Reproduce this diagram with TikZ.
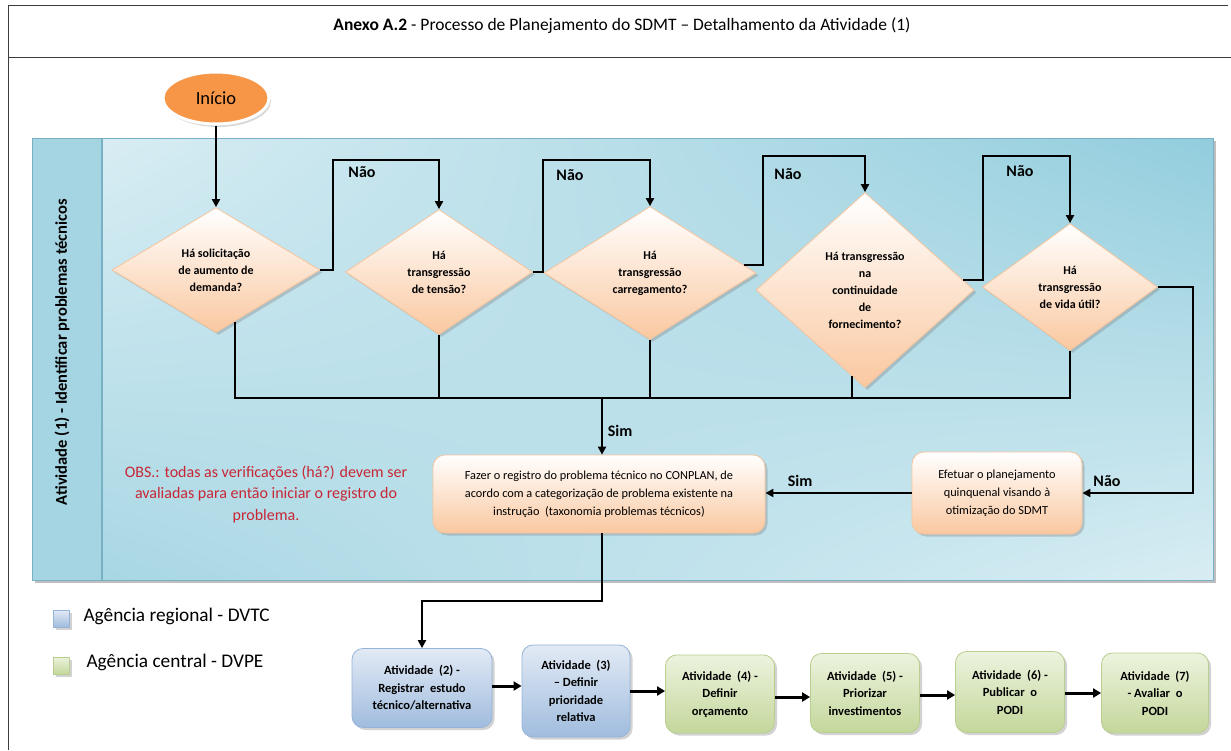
\documentclass[tikz,border=0pt]{standalone}
\usepackage{fontspec}
\setmainfont{Carlito}
\usetikzlibrary{shapes.geometric,arrows.meta,shadows,shadings,calc}

\definecolor{panelUL}{RGB}{216,237,243}
\definecolor{panelUR}{RGB}{146,205,221}
\definecolor{panelLL}{RGB}{168,215,228}
\definecolor{panelLR}{RGB}{216,237,243}
\definecolor{stripEdge}{RGB}{165,212,226}
\definecolor{stripMid}{RGB}{230,244,248}
\definecolor{panelLine}{RGB}{120,176,196}
\definecolor{peach}{RGB}{250,200,160}
\definecolor{peachLine}{RGB}{246,196,156}
\definecolor{startOrange}{RGB}{247,150,70}
\definecolor{blueTop}{RGB}{226,234,245}
\definecolor{blueBot}{RGB}{160,188,222}
\definecolor{blueLine}{RGB}{150,180,215}
\definecolor{greenTop}{RGB}{236,243,222}
\definecolor{greenBot}{RGB}{196,215,155}
\definecolor{greenLine}{RGB}{185,205,145}
\definecolor{noteRed}{RGB}{200,38,52}
\definecolor{frameGray}{RGB}{60,60,60}

\newcommand\setfs[2]{\fontsize{#1}{#2}\selectfont}

\begin{document}
\begin{tikzpicture}[x=1pt,y=-1pt,
  softshadow/.style={drop shadow={opacity=0.35,shadow xshift=2.5pt,shadow yshift=-2.5pt}},
  decision/.style={diamond,draw=peachLine,line width=0.8pt,top color=white,bottom color=peach,
    inner sep=0pt,softshadow},
  dtext/.style={align=center,font=\setfs{12}{17}\bfseries},
  taskbox/.style={rectangle,rounded corners=12pt,draw=peachLine,line width=0.8pt,
    top color=white,bottom color=peach,align=center,softshadow,inner sep=2pt},
  bluebox/.style={rectangle,rounded corners=11pt,draw=blueLine,line width=0.8pt,
    top color=blueTop,bottom color=blueBot,align=center,softshadow,inner sep=2pt,
    font=\setfs{12.5}{17.5}\bfseries},
  greenbox/.style={rectangle,rounded corners=11pt,draw=greenLine,line width=0.8pt,
    top color=greenTop,bottom color=greenBot,align=center,softshadow,inner sep=2pt,
    font=\setfs{12.5}{17.5}\bfseries},
  flow/.style={draw=black,line width=2pt,line join=miter},
  arrow/.style={flow,-{Triangle[length=8pt,width=8pt]}},
  bigarrow/.style={draw=black,line width=3pt,-{Triangle[length=8pt,width=9pt]}},
  branch/.style={font=\setfs{16}{18}\bfseries},
]
\useasboundingbox (0,0) rectangle (1231,750);
\fill[white] (0,0) rectangle (1231,750);

% page frame and title
\draw[frameGray,line width=0.9pt] (8,750) -- (8,5) -- (1228,5);
\draw[frameGray,line width=0.9pt] (8,57) -- (1231,57);
\node (title) at (622,26) {\setfs{17.5}{19}\textbf{Anexo A.2} - Processo de Planejamento do SDMT -- Detalhamento da Atividade (1)};

% swimlane panel
\fill[black,opacity=0.25] (35,141) rectangle (1216,583);
\shade[upper left=panelUL,upper right=panelUR,lower left=panelLL,lower right=panelLR]
  (102,138) rectangle (1213,580);
\shade[left color=stripEdge,middle color=stripMid,right color=stripEdge]
  (32,138) rectangle (102,580);
\draw[panelLine,line width=0.8pt] (32,138) rectangle (1213,580);
\draw[panelLine,line width=1.2pt] (102,138) -- (102,580);
\node[rotate=90,font=\setfs{16.5}{18}\bfseries] (lane) at (62,352)
  {Atividade (1) - Identificar problemas técnicos};

% start
\node[ellipse,fill=startOrange,draw=white,line width=3pt,minimum width=106pt,minimum height=52pt,
  drop shadow={opacity=0.3,shadow xshift=2pt,shadow yshift=-3pt},font=\setfs{18.5}{20}] (start) at (216,98) {Início};

% decisions
\node[decision,minimum width=208pt,minimum height=125pt] (d1) at (216,270) {};
\node[dtext] (t1) at (d1) {Há solicitação\\de aumento de\\demanda?};
\node[decision,minimum width=187pt,minimum height=125pt] (d2) at (439,272) {};
\node[dtext] (t2) at (d2) {Há\\transgressão\\de tensão?};
\node[decision,minimum width=212pt,minimum height=133pt] (d3) at (650,273) {};
\node[dtext] (t3) at (d3) {Há\\transgressão\\carregamento?};
\node[decision,minimum width=218pt,minimum height=195pt] (d4) at (865,290) {};
\node[dtext] (t4) at (d4) {Há transgressão\\na\\continuidade\\de\\fornecimento?};
\node[decision,minimum width=175pt,minimum height=127pt] (d5) at (1070,287) {};
\node[dtext] (t5) at (d5) {Há\\transgressão\\de vida útil?};

% tasks inside the lane
\node[taskbox,minimum width=332pt,minimum height=78pt,font=\setfs{12.3}{18}] (fz) at (599,494)
  {Fazer o registro do problema técnico no CONPLAN, de\\acordo com a categorização de problema existente na\\instrução\ \ (taxonomia problemas técnicos)};
\node[taskbox,minimum width=170pt,minimum height=82pt,font=\setfs{12.3}{18}] (ef) at (997,493)
  {Efetuar o planejamento\\quinquenal visando à\\otimização do SDMT};

% note
\node[align=center,text=noteRed,font=\setfs{16}{21.5}] (obs) at (266,494)
  {OBS.: todas as verificações (há?) devem ser\\avaliadas para então iniciar o registro do\\problema.};

% entry into the first check
\draw[arrow] (start.south) -- (d1.north);

% "Não" loops between decisions
\coordinate (u1) at (333,160);
\coordinate (u2) at (543,160);
\coordinate (u3) at (763,156);
\coordinate (u4) at (983,156);
\coordinate (u5) at (1193,400);
\draw[arrow] (d1.east) -| (u1) -| (d2.north);
\draw[arrow] (d2.east) -| (u2) -| (d3.north);
\draw[arrow] ($(d3.east)!0.12!(d3.north)$) -| (u3) -| (d4.north);
\draw[arrow] ($(d4.east)!0.1!(d4.north)$) -| (u4) -| (d5.north);
\draw[arrow] (d5.east) -| (u5) |- (ef.east);
\node[branch] (n1) at (362,172) {Não};
\node[branch] (n2) at (570,175) {Não};
\node[branch] (n3) at (788,174) {Não};
\node[branch] (n4) at (1020,171) {Não};
\node[branch] (n5) at (1107,481) {Não};

% "Sim" collector line
\coordinate (bus) at (0,398);
\coordinate (b1) at ($(d1.south)!0.18!(d1.east)$);
\coordinate (b4) at ($(d4.south)!0.12!(d4.west)$);
\draw[flow] (b1) -- (b1 |- bus) -- (d5.south |- bus) -- (d5.south);
\draw[flow] (d2.south) -- (d2.south |- bus);
\draw[flow] (d3.south) -- (d3.south |- bus);
\draw[flow] (b4) -- (b4 |- bus);
\draw[arrow] ([xshift=3pt]fz.north |- bus) -- ([xshift=3pt]fz.north);
\node[branch] (s1) at (620,431) {Sim};
\draw[arrow] (ef.west) -- (ef.west -| fz.east);
\node[branch] (s2) at (800,481) {Sim};

% legend
\shade[top color=blueTop,bottom color=blueBot,draw=blueLine,softshadow] (53,610) rectangle (69,627);
\node[anchor=west,font=\setfs{19.3}{21}] (lg1) at (80,616) {Agência regional - DVTC};
\shade[top color=greenTop,bottom color=greenBot,draw=greenLine,softshadow] (53,657) rectangle (69,674);
\node[anchor=west,font=\setfs{19.3}{21}] (lg2) at (83,662) {Agência central - DVPE};

% downstream activities
\node[bluebox,minimum width=140pt,minimum height=79pt] (a2) at (422,688)
  {Atividade\ \ (2) -\\Registrar\ \ estudo\\técnico/alternativa};
\node[bluebox,minimum width=108pt,minimum height=92pt] (a3) at (576,691)
  {Atividade\ \ (3)\\-- Definir\\prioridade\\relativa};
\node[greenbox,minimum width=109pt,minimum height=78pt] (a4) at (720,694)
  {Atividade\ \ (4) -\\Definir\\orçamento};
\node[greenbox,minimum width=109pt,minimum height=79pt] (a5) at (865,693)
  {Atividade\ \ (5) -\\Priorizar\\investimentos};
\node[greenbox,minimum width=109pt,minimum height=81pt] (a6) at (1010,692)
  {Atividade\ \ (6) -\\Publicar\ \ o\\PODI};
\node[greenbox,minimum width=107pt,minimum height=80pt] (a7) at (1155,693)
  {Atividade\ \ (7)\\- Avaliar\ \ o\\PODI};

\coordinate (drop) at (0,601);
\draw[arrow] ([xshift=3pt]fz.south) -- ([xshift=3pt]fz.south |- drop) -| (a2.north);
\draw[bigarrow] ([yshift=2pt]a2.east) -- ([yshift=2pt]a2.east -| a3.west);
\draw[bigarrow] (a3.east) -- (a3.east -| a4.west);
\draw[bigarrow] ([yshift=-3pt]a4.east) -- ([yshift=-3pt]a4.east -| a5.west);
\draw[bigarrow] ([yshift=-2pt]a5.east) -- ([yshift=-2pt]a5.east -| a6.west);
\draw[bigarrow] ([yshift=-1pt]a6.east) -- ([yshift=-1pt]a6.east -| a7.west);
\end{tikzpicture}
\end{document}
